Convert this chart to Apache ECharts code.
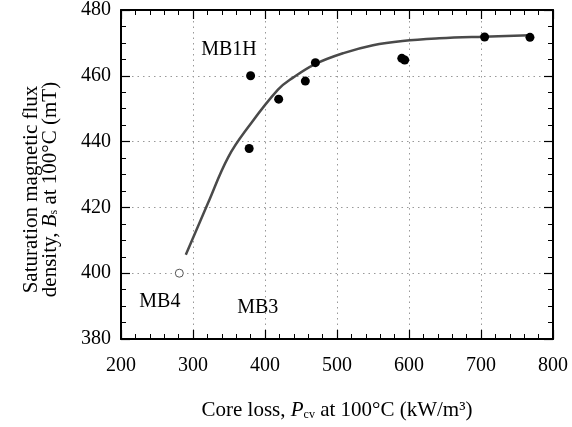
<!DOCTYPE html>
<html><head><meta charset="utf-8">
<script src="https://cdn.jsdelivr.net/npm/echarts@6/dist/echarts.min.js"></script>
<style>html,body{margin:0;padding:0;background:#fff}#c{width:572px;height:427px}</style>
</head><body><div id="c"></div>
<script>
// Measured samples (filled)
const sampleX = [380, 378, 419, 456, 470, 590, 594, 705, 768];
const sampleY = [460, 437.9, 452.9, 458.4, 464, 465.3, 464.8, 471.8, 471.7];
// Open circle sample (MB4)
const openX = [281];
const openY = [400];
// Fitted trend curve
const curveX = [290, 321, 349, 377, 418, 438, 469, 509, 550, 591, 642, 703, 768];
const curveY = [405.6, 421.4, 435.3, 444.5, 455.8, 459.3, 463.5, 466.9, 469.3, 470.6, 471.4, 471.9, 472.3];
// Annotation labels
const labelNames = ['MB1H', 'MB4', 'MB3'];
const labelX = [350, 254, 390];
const labelY = [467.9, 391.2, 389.4];
// Axis ticks
const xTicks = [200, 300, 400, 500, 600, 700, 800];
const yTicks = [380, 400, 420, 440, 460, 480];

const FONT = 'Liberation Serif';
const chart = echarts.init(document.getElementById('c'), null, {renderer: 'canvas'});
const zip = (a, b) => a.map((v, i) => [v, b[i]]);
const grid = {left: 121, right: 19, top: 10, bottom: 88};
const axisCommon = {
  axisLine: {show: true, onZero: false, lineStyle: {color: '#000', width: 2}},
  axisTick: {show: true, inside: true, length: 9, lineStyle: {color: '#000', width: 1.2}},
  minorTick: {show: true, length: 5, lineStyle: {color: '#000', width: 1}},
  axisLabel: {color: '#000', fontFamily: FONT, fontSize: 20},
};
const richTitle = {
  i: {fontStyle: 'italic', fontFamily: FONT, fontSize: 21, color: '#000'},
  sub: {fontFamily: FONT, fontSize: 12, color: '#000', verticalAlign: 'bottom', padding: [9, 0, 0, 0]}
};
chart.setOption({
  animation: false,
  backgroundColor: '#fff',
  grid: grid,
  xAxis: [
    Object.assign({}, axisCommon, {
      type: 'value', min: xTicks[0], max: xTicks[xTicks.length - 1], interval: 100, position: 'bottom',
      minorTick: Object.assign({}, axisCommon.minorTick, {splitNumber: 5}),
      axisLabel: Object.assign({}, axisCommon.axisLabel, {margin: 17}),
      splitLine: {show: true, lineStyle: {color: '#999', type: [1.5, 4], width: 1}},
      name: 'Core loss, {i|P}{sub|cv} at 100°C (kW/m³)',
      nameLocation: 'middle', nameGap: 61,
      nameTextStyle: {color: '#000', fontFamily: FONT, fontSize: 21, rich: richTitle}
    }),
    Object.assign({}, axisCommon, {
      type: 'value', min: xTicks[0], max: xTicks[xTicks.length - 1], interval: 100, position: 'top',
      minorTick: Object.assign({}, axisCommon.minorTick, {splitNumber: 5}),
      axisLabel: {show: false}, splitLine: {show: false}
    })
  ],
  yAxis: [
    Object.assign({}, axisCommon, {
      type: 'value', min: yTicks[0], max: yTicks[yTicks.length - 1], interval: 20, position: 'left',
      minorTick: Object.assign({}, axisCommon.minorTick, {splitNumber: 4}),
      axisLabel: Object.assign({}, axisCommon.axisLabel, {margin: 10, padding: [5, 0, 0, 0]}),
      splitLine: {show: true, lineStyle: {color: '#999', type: [1.5, 4], width: 1}},
      name: 'Saturation magnetic flux\ndensity, {i|B}{sub|s} at 100°C (mT)',
      nameLocation: 'middle', nameGap: 61, nameRotate: 90,
      nameTextStyle: {color: '#000', fontFamily: FONT, fontSize: 21, lineHeight: 19,
        padding: [0, 30, 0, 0], rich: richTitle}
    }),
    Object.assign({}, axisCommon, {
      type: 'value', min: yTicks[0], max: yTicks[yTicks.length - 1], interval: 20, position: 'right',
      minorTick: Object.assign({}, axisCommon.minorTick, {splitNumber: 4}),
      axisLabel: {show: false}, splitLine: {show: false}
    })
  ],
  series: [
    {type: 'line', data: zip(curveX, curveY), smooth: 0.4, showSymbol: false,
     lineStyle: {color: '#4a4a4a', width: 2.5}, z: 2},
    {type: 'scatter', data: zip(sampleX, sampleY), symbol: 'circle', symbolSize: 9,
     itemStyle: {color: '#000', opacity: 1}, z: 3},
    {type: 'scatter', data: zip(openX, openY), symbol: 'circle', symbolSize: 8,
     itemStyle: {color: '#fff', borderColor: '#555', borderWidth: 1, opacity: 1}, z: 3},
    {type: 'scatter', data: labelNames.map((n, i) => ({name: n, value: [labelX[i], labelY[i]]})),
     symbolSize: 0, silent: true, itemStyle: {opacity: 1},
     label: {show: true, position: 'inside', formatter: '{b}', color: '#000', fontFamily: FONT, fontSize: 20}}
  ]
});
</script></body></html>
